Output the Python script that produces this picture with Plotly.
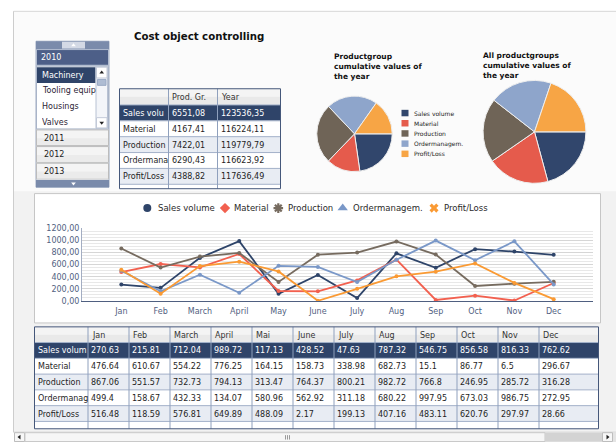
import plotly.graph_objects as go

W, H = 616, 447
FONT = "DejaVu Sans"

# ---------------- data ----------------
series_names = ["Sales volume", "Material", "Production", "Ordermanagem.", "Profit/Loss"]
series_colors = ["#2e4469", "#f2604f", "#766b5f", "#7a98c8", "#fa9a33"]
pie_colors = ["#31466c", "#e55b4c", "#6f6457", "#8ea5cb", "#f7a545"]

months_axis = ["Jan", "Feb", "March", "April", "May", "June", "July", "Aug", "Sep", "Oct", "Nov", "Dec"]
months_table = ["Jan", "Feb", "March", "April", "Mai", "June", "July", "Aug", "Sep", "Oct", "Nov", "Dec"]

sales_volume = [270.63, 215.81, 712.04, 989.72, 117.13, 428.52, 47.63, 787.32, 546.75, 856.58, 816.33, 762.62]
material = [476.64, 610.67, 554.22, 776.25, 164.15, 158.73, 338.98, 682.73, 15.1, 86.77, 6.5, 296.67]
production = [867.06, 551.57, 732.73, 794.13, 313.47, 764.37, 800.21, 982.72, 766.8, 246.95, 285.72, 316.28]
ordermanagement = [499.4, 158.67, 432.33, 134.07, 580.96, 562.92, 311.18, 680.22, 997.95, 673.03, 986.75, 272.95]
profit_loss = [516.48, 118.59, 576.81, 649.89, 488.09, 2.17, 199.13, 407.16, 483.11, 620.76, 297.97, 28.66]

prod_group_values = [6551.08, 4167.41, 7422.01, 6290.43, 4388.82]
year_values = [123536.35, 116224.11, 119779.79, 116623.92, 117636.49]

product_groups = ["Machinery", "Tooling equipment", "Housings", "Valves"]
years = ["2010", "2011", "2012", "2013"]

y_tick_values = [0, 200, 400, 600, 800, 1000, 1200]
y_tick_labels = ["0,00", "200,00", "400,00", "600,00", "800,00", "1000,00", "1200,00"]

title_text = "Cost object controlling"
pie1_title = ["Productgroup", "cumulative values of", "the year"]
pie2_title = ["All productgroups", "cumulative values of", "the year"]
small_table_header = ["", "Prod. Gr.", "Year"]

series_values = [sales_volume, material, production, ordermanagement, profit_loss]

# ---------------- helpers ----------------
def X(p):
    return p / W


def Y(p):
    return 1 - p / H


# approximate DejaVu Sans advance widths (em) used to cut labels to their cell
CW = {"S": .635, "a": .613, "l": .278, "e": .615, "s": .521, " ": .318, "v": .592,
      "o": .612, "u": .634, "m": .974, "O": .787, "r": .411, "d": .635, "n": .634,
      "g": .635, "T": .611, "i": .278, "q": .635, "p": .635, "t": .392, "c": .55,
      "h": .634, "y": .592, "M": .863, "P": .603, "f": .352, "/": .337, "L": .557,
      "H": .752, "V": .684, ".": .318}


def fit(s, px, size=8):
    out, w = "", 0.0
    for ch in s:
        w += CW.get(ch, 0.62) * size
        if w > px:
            break
        out += ch
    return out


shapes = []
annotations = []


def rect(x0, y0, x1, y1, fill=None, line=None, lw=1, layer="below"):
    shapes.append(dict(type="rect", xref="paper", yref="paper",
                       x0=X(x0), x1=X(x1), y0=Y(y1), y1=Y(y0),
                       fillcolor=fill or "rgba(0,0,0,0)",
                       line=dict(color=line or "rgba(0,0,0,0)", width=lw if line else 0),
                       layer=layer))


def seg(x0, y0, x1, y1, color, lw=1, layer="below"):
    shapes.append(dict(type="line", xref="paper", yref="paper",
                       x0=X(x0), x1=X(x1), y0=Y(y0), y1=Y(y1),
                       line=dict(color=color, width=lw), layer=layer))


def label(x, y, s, size=8, color="#222222", weight="normal", width=None, anchor="left"):
    a = dict(xref="paper", yref="paper", x=X(x), y=Y(y), text=s, showarrow=False,
             xanchor=anchor, yanchor="middle", align="left", borderpad=0,
             font=dict(family=FONT, size=size, color=color, weight=weight))
    if width:
        a["width"] = width
    annotations.append(a)


marks = []  # decorative glyphs on the pixel overlay axis


def glyph(x, y, symbol, color, size, lw=0):
    marks.append((x, y, symbol, color, size, lw))


# ---------------- background frame ----------------
rect(13.5, 7.5, 617, 437, "#f2f2f2", "#cdcdcd")
rect(14, 8, 616, 191, "#fbfbfb")
rect(34.5, 193.5, 600.5, 325.5, "#ffffff", "#c6c6c6")

label(133, 33, title_text, 10.2, "#111111", "bold")

# ---------------- left selector widget ----------------
rect(36, 38, 109, 187, "#e8ecf2", "#9eabc2")
rect(36, 38, 109, 46.5, "#7a8bab")
rect(62, 38.5, 85, 45.5, "#d3d9e5")
glyph(73.5, 42.2, "triangle-up", "#ffffff", 4)
rect(36.5, 46.5, 108.5, 62.5, "#4d5f88", "#b0bbcf")
label(40, 55, years[0], 8, "#ffffff")
rect(36.5, 63.5, 108.5, 127.5, "#ffffff", "#a9b4c8")
rect(37, 64.5, 95.5, 80.5, "#2f4469")
for i, g in enumerate(product_groups):
    label(40.5, 72.6 + 16 * i, fit(g, 55), 8, "#ffffff" if i == 0 else "#2c2436", width=55)
rect(96, 64, 107.5, 127, "#f3f5f9", "#b8c2d3")
rect(96.5, 64.5, 107, 75.5, "#ffffff", "#c3cad8")
rect(97.5, 77, 106, 83, "#aebcd3", "#9aaac5")
rect(96.5, 116, 107, 126.5, "#ffffff", "#c3cad8")
glyph(101.7, 70, "triangle-up", "#222222", 4)
glyph(101.7, 121.3, "triangle-down", "#222222", 4)
for i, yr in enumerate(years[1:]):
    y0 = 128 + 17 * i
    rect(36.5, y0 + 0.5, 108.5, y0 + 16.5, "#f4f4f4", "#bcbcbc")
    rect(37, y0 + 9, 108, y0 + 16, "#ebebeb")
    label(42.5, y0 + 8.8, yr, 8, "#222222")
rect(36, 179.5, 109, 187, "#7a8bab")
glyph(73.5, 183.3, "triangle-down", "#ffffff", 4)


# ---------------- tables ----------------
def draw_table(col_edges, row_edges, bottom, header, row_labels, columns, numfmt):
    left, right = col_edges[0], col_edges[-1]
    top = row_edges[0]
    fills = ["#2f4469", "#ffffff", "#e8ecf3", "#ffffff", "#e8ecf3"]
    rect(left, top, right, row_edges[1], "#f4f4f4")
    rect(left, (top + row_edges[1]) / 2, right, row_edges[1], "#e9e9e9")
    for r in range(len(row_labels)):
        rect(left, row_edges[r + 1], right, row_edges[r + 2], fills[r])
    rect(left, row_edges[-1], right, bottom, "#ffffff")
    for yv in row_edges[1:]:
        seg(left, yv, right, yv, "#a3b1c9")
    for xv in col_edges[1:-1]:
        seg(xv, top, xv, bottom, "#8fa0bd")
    rect(left, top, right, bottom, None, "#45577a")
    for c, h in enumerate(header):
        if h:
            label(col_edges[c] + 2.5, (top + row_edges[1]) / 2 + 0.5, h, 8, "#333333")
    lw = col_edges[1] - col_edges[0] - 3
    for r, name in enumerate(row_labels):
        yc = (row_edges[r + 1] + row_edges[r + 2]) / 2 + 0.5
        col = "#ffffff" if r == 0 else "#1e1e1e"
        label(col_edges[0] + 2, yc, fit(name, lw + 1.5), 8, col, width=lw)
        for c, vals in enumerate(columns):
            label(col_edges[c + 1] + 2, yc, numfmt(vals[r]), 8, col)


# small summary table
s_cols = [119.5, 168.5, 217.5, 280.5]
s_rows = [86.5] + [103 + 16.2 * i for i in range(6)]
draw_table(s_cols, s_rows, 188.5, small_table_header, series_names,
           [prod_group_values, year_values], lambda v: f"{v:.2f}".replace(".", ","))

# monthly table
b_cols = [34.5, 88] + [88 + 41 * (i + 1) for i in range(11)] + [598.5]
b_rows = [329.5] + [345.5 + 16.1 * i for i in range(6)]
month_columns = [[s[m] for s in series_values] for m in range(12)]
draw_table(b_cols, b_rows, 433.5, [""] + months_table, series_names,
           month_columns, lambda v: str(v))

# ---------------- pie titles and legend ----------------
for i, t in enumerate(pie1_title):
    label(333, 54 + 10 * i, t, 7.5, "#111111", "bold")
for i, t in enumerate(pie2_title):
    label(482, 53 + 10 * i, t, 7.5, "#111111", "bold")
for i, (n, c) in enumerate(zip(series_names, pie_colors)):
    yc = 111.3 + 10.4 * i
    rect(401.5, yc - 3.3, 408.5, yc + 3.3, c)
    label(413, yc, n, 6, "#222222")

# ---------------- line chart legend ----------------
leg_marker_x = [147.3, 225, 278.3, 342.7, 434]
leg_text_x = [156.7, 233.3, 287.3, 351.7, 442.7]
leg_symbols = ["circle", "diamond", "asterisk-open", "triangle-up", "x"]
leg_sizes = [8, 8, 8, 9, 8]
for i, n in enumerate(series_names):
    glyph(leg_marker_x[i], 208.3, leg_symbols[i], series_colors[i], leg_sizes[i],
          2.2 if leg_symbols[i] == "asterisk-open" else 0)
    label(leg_text_x[i], 208.3, n, 8.5, "#2a2a2a")

# ---------------- bottom scrollbar ----------------
rect(14, 437, 616, 447, "#e4e4e4")
rect(14.5, 437.5, 24.5, 446.5, "#f7f7f7", "#bdbdbd")
glyph(19.5, 442, "triangle-left", "#222222", 4)
rect(25, 437.5, 545, 446.5, "#f6f6f6", "#c9c9c9")
for gx in (285, 287, 289):
    seg(gx + 0.5, 440, gx + 0.5, 444.5, "#9a9a9a")
rect(545, 437.5, 602, 446.5, "#d3d3d3")
rect(602.5, 437.5, 612.5, 446.5, "#f7f7f7", "#bdbdbd")
glyph(607.5, 442, "triangle-right", "#222222", 4)

# ---------------- figure ----------------
fig = go.Figure()

for name, vals, col in zip(series_names, series_values, series_colors):
    fig.add_trace(go.Scatter(x=months_axis, y=vals, name=name, mode="lines+markers",
                             line=dict(color=col, width=1.8),
                             marker=dict(color=col, size=4), hoverinfo="skip"))

fig.add_trace(go.Pie(labels=series_names, values=prod_group_values, sort=False,
                     direction="clockwise", rotation=90,
                     domain=dict(x=[X(316), X(393)], y=[Y(171), Y(94)]),
                     marker=dict(colors=pie_colors, line=dict(color="#eeeeee", width=1)),
                     textinfo="none", hoverinfo="skip", showlegend=False))
fig.add_trace(go.Pie(labels=series_names, values=year_values, sort=False,
                     direction="clockwise", rotation=90,
                     domain=dict(x=[X(482), X(587)], y=[Y(183), Y(78)]),
                     marker=dict(colors=pie_colors, line=dict(color="#eeeeee", width=1)),
                     textinfo="none", hoverinfo="skip", showlegend=False))

for (gx, gy, sym, col, size, lw) in marks:
    fig.add_trace(go.Scatter(x=[gx], y=[gy], xaxis="x2", yaxis="y2", mode="markers",
                             marker=dict(symbol=sym, color=col, size=size,
                                         line=dict(width=lw, color=col)),
                             hoverinfo="skip", showlegend=False, cliponaxis=False))

tickfont = dict(family=FONT, size=8, color="#52617f")
fig.update_layout(
    width=W, height=H, margin=dict(l=0, r=0, t=0, b=0),
    paper_bgcolor="#ffffff", plot_bgcolor="rgba(0,0,0,0)",
    showlegend=False, hovermode=False,
    shapes=shapes, annotations=annotations,
    xaxis=dict(type="category", domain=[X(82), X(593)], range=[-1, 12],
               showline=True, linecolor="#4f5f80", linewidth=1, showgrid=False,
               ticks="", tickfont=tickfont, ticklabelstandoff=3,
               fixedrange=True, zeroline=False),
    yaxis=dict(domain=[Y(303), Y(229)], range=[0, 1200], tickmode="array",
               tickvals=y_tick_values, ticktext=y_tick_labels,
               showgrid=True, gridcolor="#d6d6d6", gridwidth=1,
               minor=dict(tickmode="linear", tick0=0, dtick=50, showgrid=True,
                          gridcolor="#e8e8e8", ticks=""),
               showline=True, linecolor="#a3adc2", zeroline=False, ticks="",
               tickfont=tickfont, fixedrange=True),
    xaxis2=dict(domain=[0, 1], range=[0, W], visible=False, fixedrange=True, anchor="y2"),
    yaxis2=dict(domain=[0, 1], range=[H, 0], visible=False, fixedrange=True, anchor="x2"),
)

fig.write_html("out.html", config={"displayModeBar": False, "staticPlot": True},
               post_script="document.body.style.margin='0';document.body.style.overflow='hidden';")
